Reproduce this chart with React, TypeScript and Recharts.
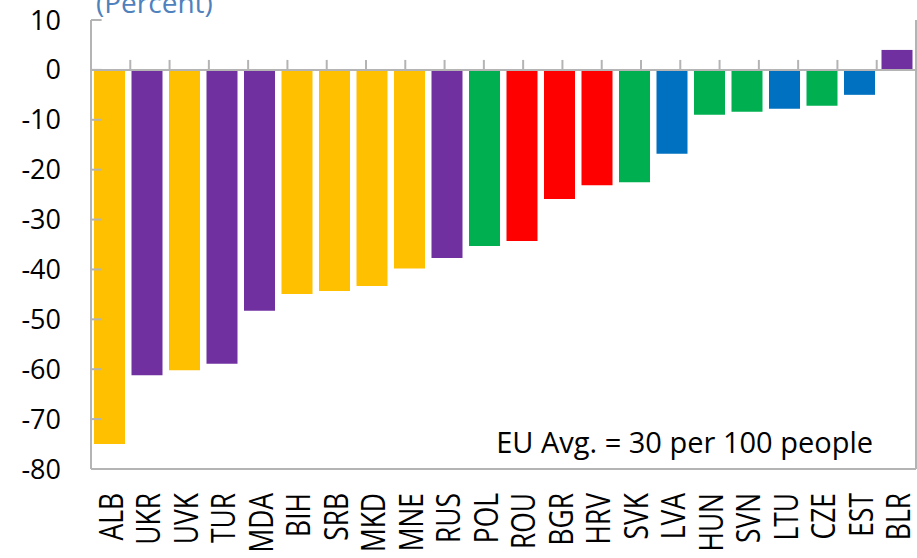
import { BarChart, Bar, Cell, XAxis, YAxis, ReferenceLine } from 'recharts';

const countries = ['ALB', 'UKR', 'UVK', 'TUR', 'MDA', 'BIH', 'SRB', 'MKD', 'MNE', 'RUS', 'POL', 'ROU', 'BGR', 'HRV', 'SVK', 'LVA', 'HUN', 'SVN', 'LTU', 'CZE', 'EST', 'BLR'];
const gapValues = [-75, -61.2, -60.2, -58.9, -48.3, -44.9, -44.3, -43.3, -39.8, -37.7, -35.3, -34.3, -25.9, -23.1, -22.5, -16.8, -9, -8.4, -7.8, -7.2, -5, 4];
const groups = ['wb', 'east', 'wb', 'east', 'east', 'wb', 'wb', 'wb', 'wb', 'east', 'ce', 'se', 'se', 'se', 'ce', 'bal', 'ce', 'ce', 'bal', 'ce', 'bal', 'east'];
const yTicks = [10, 0, -10, -20, -30, -40, -50, -60, -70, -80];

const groupColors: Record<string, string> = {
  wb: '#FFC000',
  east: '#7030A0',
  ce: '#00B050',
  se: '#FF0000',
  bal: '#0070C0',
};

const chartData = countries.map((c, i) => ({ country: c, value: gapValues[i], group: groups[i] }));
const boundaries = countries.slice(1).map((_, i) => i + 1);

const AXIS_GRAY = '#B4B4B4';
const FONT = '"Open Sans", "Noto Sans", sans-serif';

const CountryTick = ({ x, y, payload }: { x?: number; y?: number; payload?: { value: string } }) => (
  <g transform={`translate(${x},${y})`}>
    <text
      transform="rotate(-90) scale(0.8,1)"
      x={0}
      y={13}
      textAnchor="end"
      fontSize={33}
      fontFamily={FONT}
      fill="#000"
    >
      {payload?.value}
    </text>
  </g>
);

export default function App() {
  return (
    <div style={{ position: 'absolute', left: 0, top: 0, width: 917, height: 558, background: '#fff' }}>
      <BarChart
        width={917}
        height={558}
        data={chartData}
        margin={{ top: 20, right: 0, left: 0, bottom: 0 }}
        barSize={31}
      >
        <text x={96} y={13} fontSize={28} fontFamily={FONT} fill="#4F81BD">(Percent)</text>
        <XAxis
          dataKey="country"
          height={89}
          axisLine={{ stroke: AXIS_GRAY, strokeWidth: 2 }}
          tickLine={false}
          tickSize={0}
          tickMargin={24}
          interval={0}
          tick={<CountryTick />}
        />
        <XAxis
          xAxisId="grid"
          type="number"
          orientation="top"
          domain={[0, countries.length]}
          height={0}
          tick={false}
          tickLine={false}
          axisLine={{ stroke: AXIS_GRAY, strokeWidth: 2 }}
        />
        <YAxis
          width={91}
          domain={[-80, 10]}
          ticks={yTicks}
          interval={0}
          tickLine={false}
          tickSize={0}
          tickMargin={30}
          axisLine={{ stroke: AXIS_GRAY, strokeWidth: 2 }}
          tick={{ fontSize: 27, fill: '#000', fontFamily: FONT }}
        />
        <YAxis
          yAxisId="right"
          orientation="right"
          width={1}
          domain={[-80, 10]}
          tick={false}
          tickLine={false}
          axisLine={{ stroke: AXIS_GRAY, strokeWidth: 2 }}
        />
        <Bar dataKey="value" isAnimationActive={false}>
          {chartData.map((d) => (
            <Cell key={d.country} fill={groupColors[d.group]} />
          ))}
        </Bar>
        <ReferenceLine y={0} stroke={AXIS_GRAY} strokeWidth={2} />
        {boundaries.map((b) => (
          <ReferenceLine
            key={`xb-${b}`}
            xAxisId="grid"
            segment={[{ x: b, y: 0 }, { x: b, y: 2 }]}
            stroke={AXIS_GRAY}
            strokeWidth={2}
          />
        ))}
        {yTicks.map((t) => (
          <ReferenceLine
            key={`yt-${t}`}
            xAxisId="grid"
            segment={[{ x: 0, y: t }, { x: 0.27, y: t }]}
            stroke={AXIS_GRAY}
            strokeWidth={2}
          />
        ))}
        <ReferenceLine
          y={-74.8}
          stroke="none"
          label={{ value: 'EU Avg. = 30 per 100 people', position: 'insideRight', offset: 43, fontSize: 29, fill: '#000', fontFamily: FONT }}
        />
      </BarChart>
    </div>
  );
}
